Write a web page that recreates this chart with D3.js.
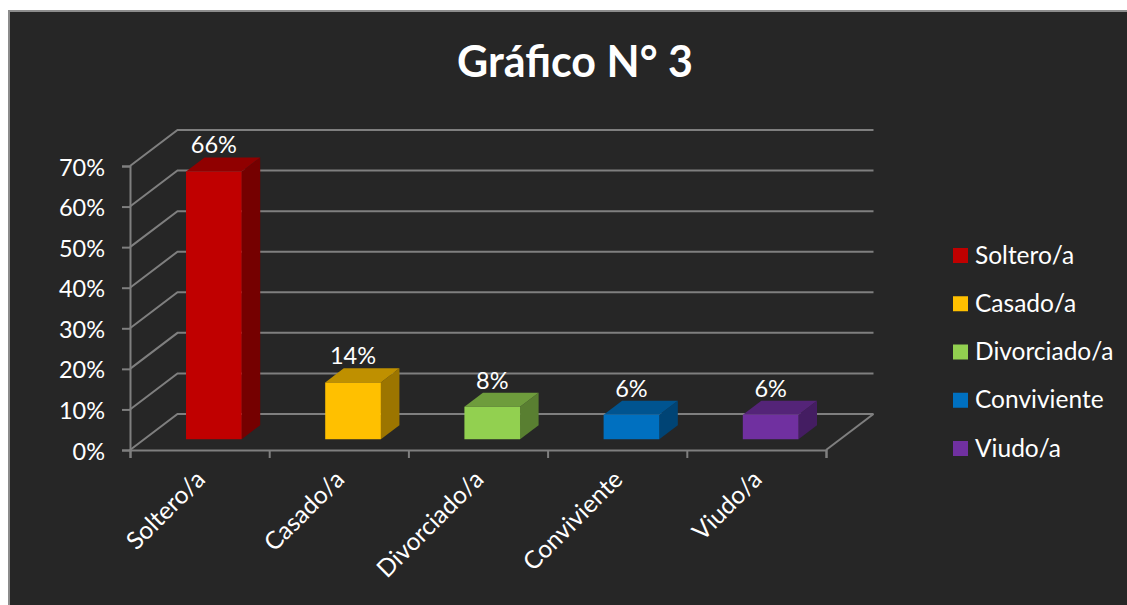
<!DOCTYPE html>
<html>
<head>
	<meta charset="utf-8">
	<script src="https://d3js.org/d3.v7.min.js"></script>
	<title>Gráfico N° 3</title>
	<style>
		html, body { margin: 0; padding: 0; background: #fff; }
		svg { display: block; }
		text { font-family: Lato, "Open Sans", sans-serif; fill: #fff; }
	</style>
</head>
<body>
	<div id="chart"></div>

	<script type="text/javascript">
		var title = "Gráfico N° 3";
		var categories = ["Soltero/a", "Casado/a", "Divorciado/a", "Conviviente", "Viudo/a"];
		var values = [66, 14, 8, 6, 6];
		var yTicks = [0, 10, 20, 30, 40, 50, 60, 70];
		var frontColors = ["#c00000", "#ffc000", "#92d050", "#0070c0", "#7030a0"];
		var topColors = ["#900000", "#bf9000", "#6e9c3c", "#005490", "#542478"];
		var sideColors = ["#750000", "#9c7500", "#597f31", "#004475", "#441d62"];

		var width = 1127, height = 605;
		var gridColor = "#7f7f7f";

		var svg = d3.select("#chart").append("svg")
			.attr("width", width)
			.attr("height", height);

		// panel, runs off the right and bottom of the picture
		svg.append("rect")
			.attr("x", 9).attr("y", 11)
			.attr("width", 1130).attr("height", 610)
			.attr("fill", "#262626")
			.attr("stroke", "#8c8c8c")
			.attr("stroke-width", 2);

		var x = d3.scaleBand()
			.domain(categories)
			.range([130, 826])
			.paddingInner(0.6)
			.paddingOuter(0.3);

		var y = d3.scaleLinear()
			.domain([0, 70])
			.range([450, 166]);

		// depth scales for the fake 3d, 0 = front of floor, 1 = back wall
		var depthX = d3.scaleLinear().domain([0, 1]).range([0, 47.5]);
		var depthY = d3.scaleLinear().domain([0, 1]).range([0, -36]);
		var barFront = 0.3, barBack = 0.69;

		function pt(px, v, z) {
			return [px + depthX(z), y(v) + depthY(z)];
		}
		var poly = d3.line();

		// gridlines on side wall and back wall
		var x0 = x.range()[0], x1 = x.range()[1];
		yTicks.forEach(function(t) {
			svg.append("path")
				.attr("d", poly([pt(x0, t, 0), pt(x0, t, 1), pt(x1, t, 1)]))
				.attr("fill", "none")
				.attr("stroke", gridColor)
				.attr("stroke-width", 2);
		});
		// right edge of floor
		svg.append("path")
			.attr("d", poly([pt(x1, 0, 0), pt(x1, 0, 1)]))
			.attr("fill", "none")
			.attr("stroke", gridColor)
			.attr("stroke-width", 2);

		// axes
		var yAxis = d3.axisLeft(y)
			.tickValues(yTicks)
			.tickSize(8)
			.tickPadding(17)
			.tickFormat(function(d) { return d + "%"; });

		var gy = svg.append("g")
			.attr("transform", "translate(" + x0 + ",0)")
			.call(yAxis);

		var tickEdges = d3.scalePoint()
			.domain(d3.range(categories.length + 1))
			.range([x0, x1]);

		var xAxis = d3.axisBottom(tickEdges)
			.tickSize(8)
			.tickFormat("");

		var gx = svg.append("g")
			.attr("transform", "translate(0," + y(0) + ")")
			.call(xAxis);

		[gy, gx].forEach(function(g) {
			g.selectAll("path, line")
				.attr("stroke", gridColor)
				.attr("stroke-width", 2);
			g.selectAll("text")
				.attr("font-size", 23.5)
				.attr("transform", "translate(0,1.5)")
				.attr("fill", "#fff");
		});

		// rotated category labels
		svg.selectAll(".catlabel")
			.data(categories).enter()
			.append("text")
			.attr("class", "catlabel")
			.attr("font-size", 24.5)
			.attr("text-anchor", "end")
			.attr("transform", function(d) {
				return "translate(" + (x(d) + x.bandwidth() / 2 + 7) + ",481) rotate(-45)";
			})
			.text(function(d) { return d; });

		// bars, side and top first so the front face sits over them
		var bars = svg.selectAll(".bar")
			.data(categories).enter()
			.append("g")
			.attr("class", "bar");

		bars.append("path")
			.attr("fill", function(d, i) { return sideColors[i]; })
			.attr("d", function(d, i) {
				var r = x(d) + x.bandwidth();
				return poly([pt(r, 0, barFront), pt(r, 0, barBack), pt(r, values[i], barBack), pt(r, values[i], barFront)]) + "Z";
			});

		bars.append("path")
			.attr("fill", function(d, i) { return topColors[i]; })
			.attr("d", function(d, i) {
				var l = x(d), r = l + x.bandwidth();
				return poly([pt(l, values[i], barFront), pt(l, values[i], barBack), pt(r, values[i], barBack), pt(r, values[i], barFront)]) + "Z";
			});

		bars.append("path")
			.attr("fill", function(d, i) { return frontColors[i]; })
			.attr("d", function(d, i) {
				var l = x(d), r = l + x.bandwidth();
				return poly([pt(l, 0, barFront), pt(l, values[i], barFront), pt(r, values[i], barFront), pt(r, 0, barFront)]) + "Z";
			});

		// value labels
		svg.selectAll(".vlabel")
			.data(categories).enter()
			.append("text")
			.attr("class", "vlabel")
			.attr("font-size", 23.5)
			.attr("text-anchor", "middle")
			.attr("x", function(d) { return x(d) + x.bandwidth() / 2 + depthX(barFront); })
			.attr("y", function(d, i) { return pt(0, values[i], barBack)[1] - 4; })
			.text(function(d, i) { return values[i] + "%"; });

		// title
		svg.append("text")
			.attr("x", 575)
			.attr("y", 77)
			.attr("text-anchor", "middle")
			.attr("font-size", 43)
			.attr("font-weight", 700)
			.text(title);

		// legend
		var legendY = d3.scalePoint()
			.domain(categories)
			.range([255.5, 448.5]);

		var legend = svg.selectAll(".legend")
			.data(categories).enter()
			.append("g")
			.attr("class", "legend")
			.attr("transform", function(d) { return "translate(953," + legendY(d) + ")"; });

		legend.append("rect")
			.attr("y", -7.5)
			.attr("width", 15)
			.attr("height", 15)
			.attr("fill", function(d, i) { return frontColors[i]; });

		legend.append("text")
			.attr("x", 22)
			.attr("y", 8)
			.attr("font-size", 24.5)
			.text(function(d) { return d; });
	</script>
</body>
</html>
